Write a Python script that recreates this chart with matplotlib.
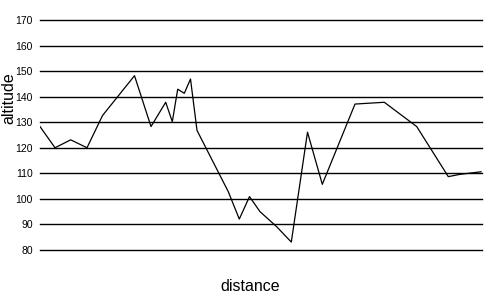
import matplotlib
matplotlib.use("Agg")
import matplotlib.pyplot as plt

# distance along the track (arbitrary units) and altitude
distance = [0, 15, 30.7, 47, 62.5, 94.5, 111, 125.7, 132.3, 137.7, 144.3, 150.5,
            157, 188.3, 199.3, 209.5, 220, 236.7, 251.3, 267.5, 282.3, 315,
            344.3, 376.7, 408.3, 420, 441]
altitude = [128.3, 120.0, 123.1, 120.0, 132.6, 148.2, 128.3, 137.8, 130.2, 142.9,
            141.3, 146.9, 126.8, 102.8, 92.1, 100.9, 95.0, 89.1, 83.1, 126.1,
            105.7, 137.1, 137.8, 128.3, 108.7, 109.6, 110.6]
yticks = [80, 90, 100, 110, 120, 130, 140, 150, 160, 170]

plt.rcParams['font.family'] = ['Liberation Sans', 'DejaVu Sans']

fig = plt.figure(figsize=(5, 3), dpi=100)
ax = fig.add_axes([0.08, 0.1667, 0.884, 0.7667])

for y in yticks:
    ax.axhline(y, color='black', linewidth=1, clip_on=False, zorder=1)

ax.plot(distance, altitude, color='black', linewidth=0.9, zorder=2)

ax.set_xlim(0, 442)
ax.set_ylim(80, 170)
ax.set_yticks(yticks)
ax.set_xticks([])
ax.tick_params(axis='y', length=0, pad=5, labelsize=7.5)
for s in ax.spines.values():
    s.set_visible(False)

ax.set_ylabel('altitude', fontsize=11.5)
ax.yaxis.set_label_coords(-0.054, 0.66)
ax.set_xlabel('distance', fontsize=11.5)
ax.xaxis.set_label_coords(0.475, -0.128)

fig.savefig('out.png', dpi=100)
